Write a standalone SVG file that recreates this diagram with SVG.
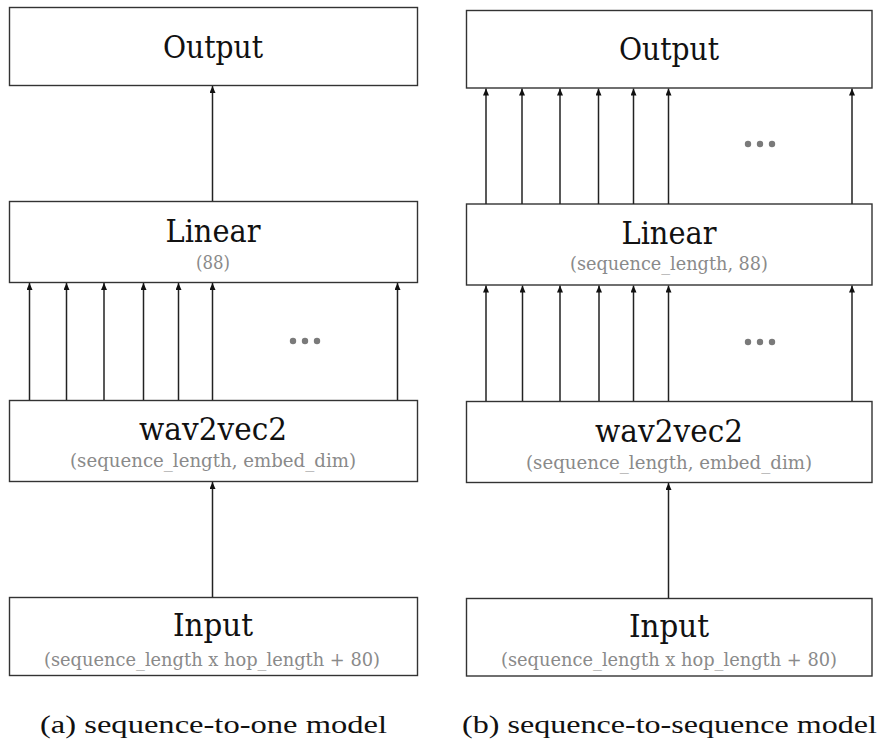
<svg xmlns="http://www.w3.org/2000/svg" width="882" height="742" viewBox="0 0 882 742">
  <style>
    .box { fill: #ffffff; stroke: #333333; stroke-width: 1.4; }
    .title { font-family: "DejaVu Serif", "Liberation Serif", serif; font-size: 31px; fill: #111111; text-anchor: middle; }
    .sub { font-family: "DejaVu Serif", "Liberation Serif", serif; font-size: 18px; fill: #8a8a8a; text-anchor: middle; }
    .cap { font-family: "Liberation Serif", "DejaVu Serif", serif; font-size: 25px; fill: #111111; }
    .edge { stroke: #222222; stroke-width: 1.5; fill: none; marker-end: url(#head); }
    .dot { fill: #7a7a7a; }
  </style>
  <defs>
    <marker id="head" markerUnits="userSpaceOnUse" viewBox="0 0 7 6" refX="7" refY="3" markerWidth="7" markerHeight="6" orient="auto">
      <path d="M0,0 L7,3 L0,6 z" fill="#111111"/>
    </marker>
  </defs>

  <rect width="882" height="742" fill="#ffffff"/>

  <!-- (a) sequence-to-one -->
  <g id="a-output">
    <rect class="box" x="9.5" y="7.5" width="408" height="78"/>
    <text class="title" x="213" y="58" textLength="100" lengthAdjust="spacingAndGlyphs">Output</text>
  </g>
  <g id="a-linear">
    <rect class="box" x="9.5" y="201.5" width="408" height="81"/>
    <text class="title" x="213" y="241.5" textLength="95" lengthAdjust="spacingAndGlyphs">Linear</text>
    <text class="sub" x="213" y="269" textLength="34" lengthAdjust="spacingAndGlyphs">(88)</text>
  </g>
  <g id="a-wav2vec2">
    <rect class="box" x="9.5" y="400.5" width="408" height="81"/>
    <text class="title" x="213" y="440" textLength="148" lengthAdjust="spacingAndGlyphs">wav2vec2</text>
    <text class="sub" x="213" y="467" textLength="286" lengthAdjust="spacingAndGlyphs">(sequence_length, embed_dim)</text>
  </g>
  <g id="a-input">
    <rect class="box" x="9.5" y="597.5" width="408" height="78"/>
    <text class="title" x="213" y="636" textLength="80" lengthAdjust="spacingAndGlyphs">Input</text>
    <text class="sub" x="212" y="666" textLength="336" lengthAdjust="spacingAndGlyphs">(sequence_length x hop_length + 80)</text>
  </g>
  <g id="a-ellipsis">
    <circle class="dot" cx="293" cy="341" r="3.2"/>
    <circle class="dot" cx="305" cy="341" r="3.2"/>
    <circle class="dot" cx="317" cy="341" r="3.2"/>
  </g>
  <g id="a-edges">
    <line class="edge" x1="212.5" y1="597" x2="212.5" y2="482"/>
    <line class="edge" x1="29.5" y1="400" x2="29.5" y2="283"/>
    <line class="edge" x1="66.5" y1="400" x2="66.5" y2="283"/>
    <line class="edge" x1="104" y1="400" x2="104" y2="283"/>
    <line class="edge" x1="143.5" y1="400" x2="143.5" y2="283"/>
    <line class="edge" x1="178.5" y1="400" x2="178.5" y2="283"/>
    <line class="edge" x1="212.5" y1="400" x2="212.5" y2="283"/>
    <line class="edge" x1="397.5" y1="400" x2="397.5" y2="283"/>
    <line class="edge" x1="212.5" y1="201" x2="212.5" y2="86"/>
  </g>
  <text class="cap" x="40" y="733" textLength="347" lengthAdjust="spacingAndGlyphs">(a) sequence-to-one model</text>

  <!-- (b) sequence-to-sequence -->
  <g id="b-output">
    <rect class="box" x="466.5" y="10.5" width="405.5" height="77.5"/>
    <text class="title" x="669" y="60" textLength="100" lengthAdjust="spacingAndGlyphs">Output</text>
  </g>
  <g id="b-linear">
    <rect class="box" x="466.5" y="204" width="405.5" height="81"/>
    <text class="title" x="669" y="243.5" textLength="95" lengthAdjust="spacingAndGlyphs">Linear</text>
    <text class="sub" x="669" y="270" textLength="198" lengthAdjust="spacingAndGlyphs">(sequence_length, 88)</text>
  </g>
  <g id="b-wav2vec2">
    <rect class="box" x="466.5" y="401.5" width="405.5" height="81"/>
    <text class="title" x="669" y="441.5" textLength="148" lengthAdjust="spacingAndGlyphs">wav2vec2</text>
    <text class="sub" x="669" y="468.5" textLength="286" lengthAdjust="spacingAndGlyphs">(sequence_length, embed_dim)</text>
  </g>
  <g id="b-input">
    <rect class="box" x="466.5" y="598.5" width="405.5" height="77.5"/>
    <text class="title" x="669" y="636.5" textLength="80" lengthAdjust="spacingAndGlyphs">Input</text>
    <text class="sub" x="669" y="666" textLength="336" lengthAdjust="spacingAndGlyphs">(sequence_length x hop_length + 80)</text>
  </g>
  <g id="b-ellipsis-top">
    <circle class="dot" cx="748" cy="144" r="3.2"/>
    <circle class="dot" cx="760" cy="144" r="3.2"/>
    <circle class="dot" cx="772" cy="144" r="3.2"/>
  </g>
  <g id="b-ellipsis-bottom">
    <circle class="dot" cx="748" cy="342" r="3.2"/>
    <circle class="dot" cx="760" cy="342" r="3.2"/>
    <circle class="dot" cx="772" cy="342" r="3.2"/>
  </g>
  <g id="b-edges">
    <line class="edge" x1="668.5" y1="598" x2="668.5" y2="483"/>
    <line class="edge" x1="486" y1="401" x2="486" y2="285.5"/>
    <line class="edge" x1="522.5" y1="401" x2="522.5" y2="285.5"/>
    <line class="edge" x1="560" y1="401" x2="560" y2="285.5"/>
    <line class="edge" x1="599" y1="401" x2="599" y2="285.5"/>
    <line class="edge" x1="633.5" y1="401" x2="633.5" y2="285.5"/>
    <line class="edge" x1="668.5" y1="401" x2="668.5" y2="285.5"/>
    <line class="edge" x1="852" y1="401" x2="852" y2="285.5"/>
    <line class="edge" x1="486" y1="204" x2="486" y2="88.5"/>
    <line class="edge" x1="522" y1="204" x2="522" y2="88.5"/>
    <line class="edge" x1="560" y1="204" x2="560" y2="88.5"/>
    <line class="edge" x1="598.5" y1="204" x2="598.5" y2="88.5"/>
    <line class="edge" x1="633.5" y1="204" x2="633.5" y2="88.5"/>
    <line class="edge" x1="668.5" y1="204" x2="668.5" y2="88.5"/>
    <line class="edge" x1="852" y1="204" x2="852" y2="88.5"/>
  </g>
  <text class="cap" x="462" y="733" textLength="415" lengthAdjust="spacingAndGlyphs">(b) sequence-to-sequence model</text>
</svg>
